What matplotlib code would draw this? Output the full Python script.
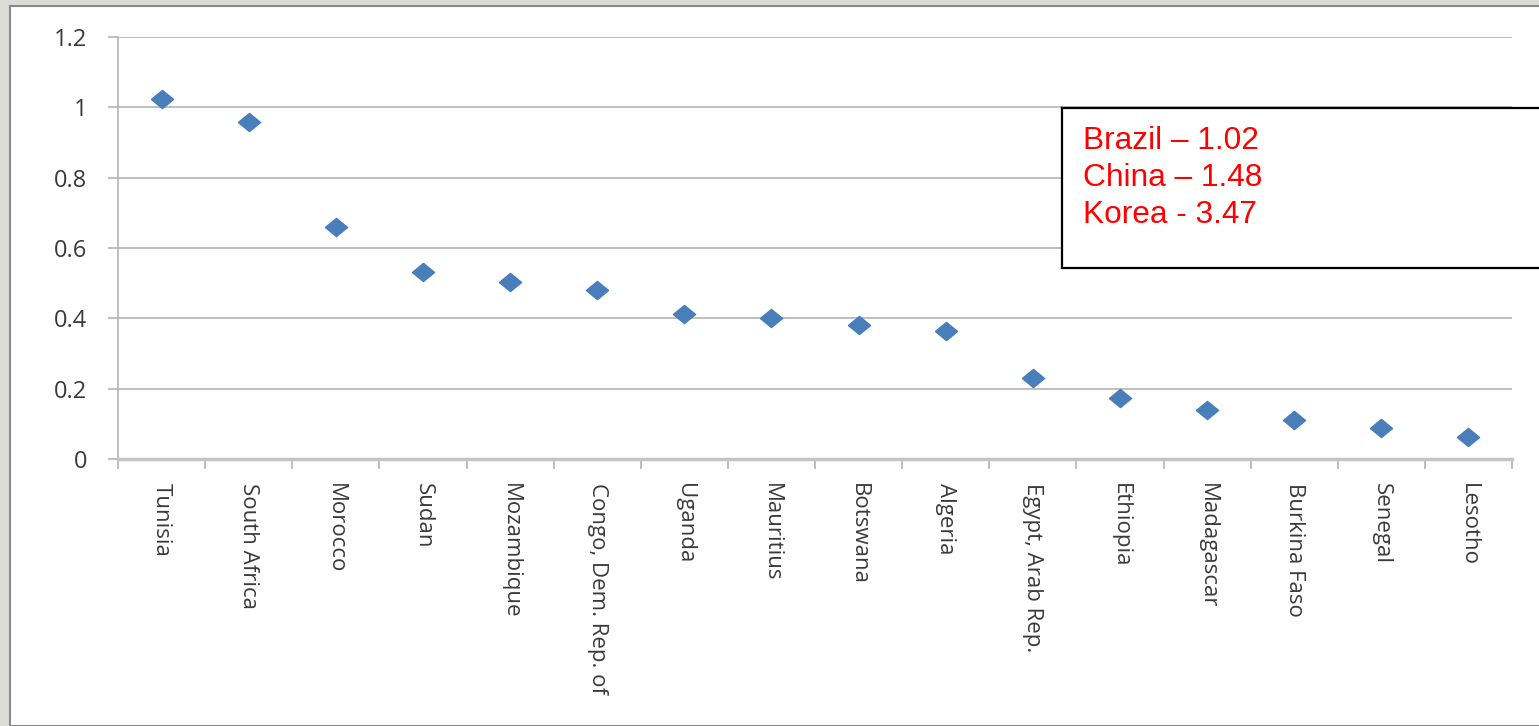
import matplotlib.pyplot as plt
from matplotlib.patches import Rectangle

countries = ["Tunisia", "South Africa", "Morocco", "Sudan", "Mozambique",
             "Congo, Dem. Rep. of", "Uganda", "Mauritius", "Botswana", "Algeria",
             "Egypt, Arab Rep.", "Ethiopia", "Madagascar", "Burkina Faso",
             "Senegal", "Lesotho"]
values = [1.023, 0.957, 0.659, 0.531, 0.503, 0.480, 0.412, 0.401, 0.381,
          0.364, 0.230, 0.173, 0.139, 0.111, 0.088, 0.063]
y_ticks = [0, 0.2, 0.4, 0.6, 0.8, 1.0, 1.2]
y_tick_labels = ["0", "0.2", "0.4", "0.6", "0.8", "1", "1.2"]
note_lines = ["Brazil \u2013 1.02", "China \u2013 1.48", "Korea - 3.47"]

W, H = 1539, 726
fig = plt.figure(figsize=(W / 100, H / 100), dpi=100, facecolor="#dcdcd8")

# white slide area with a thin grey frame
fig.patches.append(Rectangle((10 / W, 0), 1, 1 - 6 / H, transform=fig.transFigure,
                             facecolor="white", edgecolor="#8a8a8a", lw=1.5, zorder=-5))

ax = fig.add_axes([118 / W, 267 / H, (1512 - 118) / W, (459 - 37) / H])
ax.set_facecolor("none")
ax.set_zorder(1)

x = list(range(len(countries)))
diamond = [(-1, 0), (0, 0.82), (1, 0), (0, -0.82), (-1, 0)]
ax.plot(x, values, linestyle="none", marker=diamond, markersize=16,
        color="#4a7ebb", zorder=3)

ax.set_xlim(-0.5, len(countries) - 0.5)
ax.set_ylim(0, 1.2)

ax.set_yticks(y_ticks)
ax.set_yticklabels(y_tick_labels, fontsize=17, color="#3a3a3a", family="Open Sans")
ax.tick_params(axis="y", length=7, width=1.2, color="#b4b4b4", pad=15)
ax.grid(axis="y", color="#b4b4b4", lw=1.2)
ax.set_axisbelow(True)

# category ticks sit on the boundaries, labels at the centres
ax.set_xticks([i - 0.5 for i in range(len(countries) + 1)])
ax.set_xticklabels([])
ax.set_xticks(x, minor=True)
ax.set_xticklabels(countries, minor=True, rotation=270, fontsize=16,
                   color="#3a3a3a", family="Open Sans", va="top", ha="center")
ax.tick_params(axis="x", which="major", length=7, width=1.2, color="#b4b4b4")
ax.tick_params(axis="x", which="minor", length=0, pad=17)

for side in ["top", "right"]:
    ax.spines[side].set_visible(False)
ax.spines["left"].set_color("#b4b4b4")
ax.spines["left"].set_linewidth(1.2)
ax.spines["bottom"].set_color("#c4c4c4")
ax.spines["bottom"].set_linewidth(2.5)

# note box for the comparison countries
note_ax = fig.add_axes([1062 / W, 1 - 268 / H, 500 / W, 160 / H])
note_ax.set_zorder(5)
note_ax.set_xticks([])
note_ax.set_yticks([])
for sp in note_ax.spines.values():
    sp.set_color("black")
    sp.set_linewidth(1.6)
fig.text(1083 / W, 1 - 126 / H, "\n".join(note_lines), color="red",
         fontsize=22.8, family="Liberation Sans", va="top", ha="left",
         linespacing=1.3, zorder=6)

fig.savefig("out.png", dpi=100, facecolor=fig.get_facecolor())
